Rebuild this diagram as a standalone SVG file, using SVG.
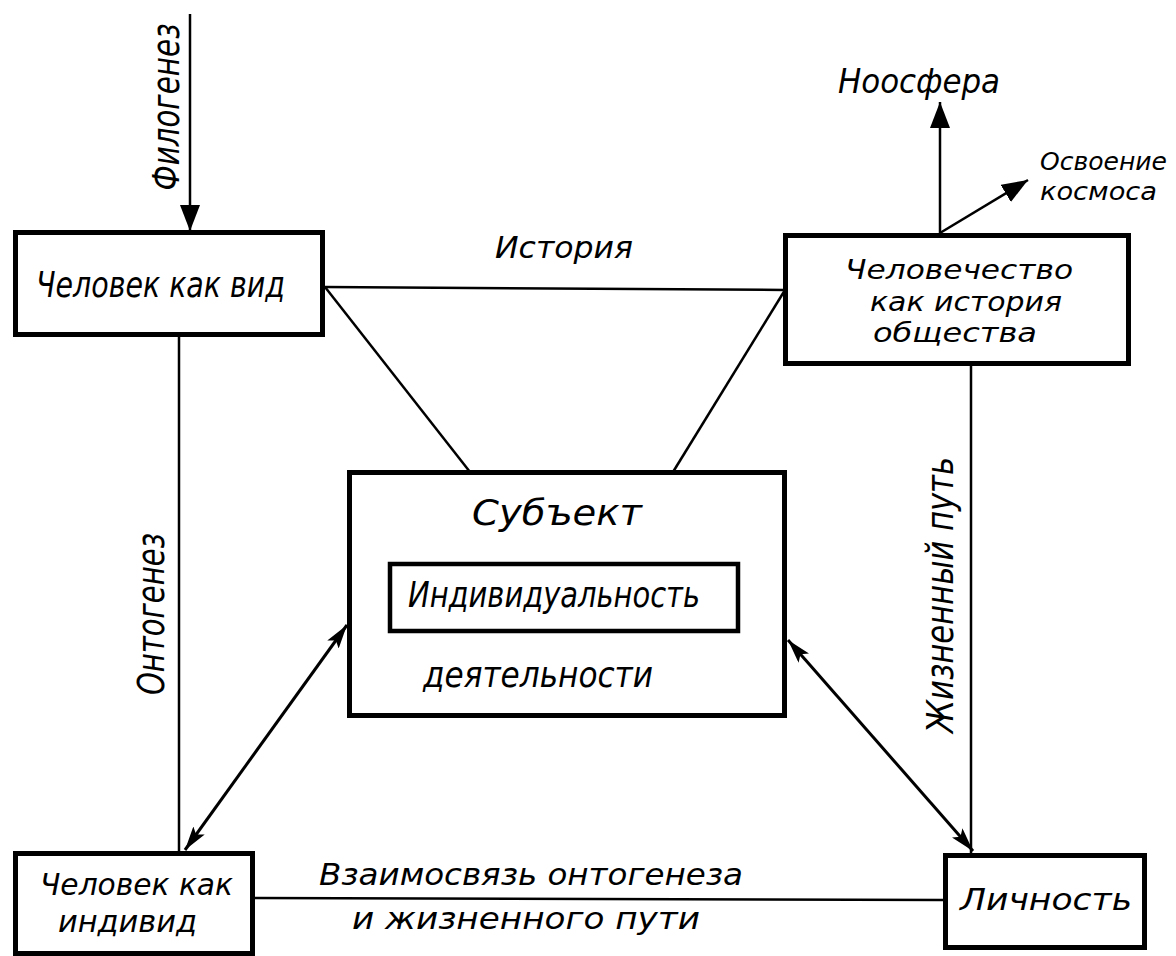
<svg xmlns="http://www.w3.org/2000/svg" width="1176" height="956" viewBox="0 0 1176 956">
<style>
.box{fill:#fff;stroke:#000;stroke-width:5}
.inner{fill:none;stroke:#000;stroke-width:4.5}
.ln{fill:none;stroke:#000;stroke-width:2.5}
.dbl{fill:none;stroke:#000;stroke-width:3}
text{font-family:"DejaVu Sans Condensed","DejaVu Sans",sans-serif;font-style:oblique;fill:#000;font-size:30px}
.big{font-size:35px}
.rot{font-size:37px}
.sm{font-size:25px}
.mid{font-size:27px}
</style>
<defs>
<marker id="ah" markerUnits="userSpaceOnUse" viewBox="0 0 26 20" refX="26" refY="10" markerWidth="26" markerHeight="20" orient="auto-start-reverse">
<path d="M0,0 L26,10 L0,20 z" fill="#000"/>
</marker>
<marker id="ah2" markerUnits="userSpaceOnUse" viewBox="0 0 24 14" refX="24" refY="7" markerWidth="24" markerHeight="14" orient="auto-start-reverse">
<path d="M0,0 L24,7 L0,14 L5,7 z" fill="#000"/>
</marker>
</defs>
<rect width="1176" height="956" fill="#fff"/>
<g id="connectors">
<line class="ln" x1="190" y1="14" x2="190" y2="231" marker-end="url(#ah)"/>
<line class="ln" x1="940" y1="233" x2="940" y2="102" marker-end="url(#ah)"/>
<line class="ln" x1="940" y1="233" x2="1028" y2="180" marker-end="url(#ah)"/>
<line class="ln" x1="325" y1="287" x2="785" y2="290"/>
<line class="ln" x1="325" y1="287" x2="470" y2="472"/>
<line class="ln" x1="785" y1="290" x2="673" y2="472"/>
<line class="ln" x1="179" y1="335" x2="179" y2="851"/>
<line class="ln" x1="971" y1="366" x2="971" y2="853"/>
<line class="ln" x1="255" y1="898" x2="943" y2="900"/>
<line class="dbl" x1="347" y1="625" x2="185" y2="850" marker-start="url(#ah2)" marker-end="url(#ah2)"/>
<line class="dbl" x1="788" y1="640" x2="973" y2="851" marker-start="url(#ah2)" marker-end="url(#ah2)"/>
<text class="rot" transform="translate(179,107) rotate(-90)" text-anchor="middle" textLength="167" lengthAdjust="spacingAndGlyphs">Филогенез</text>
<text class="rot" transform="translate(164,614) rotate(-90)" text-anchor="middle" textLength="162" lengthAdjust="spacingAndGlyphs">Онтогенез</text>
<text class="rot" transform="translate(953,595) rotate(-90)" text-anchor="middle" textLength="276" lengthAdjust="spacingAndGlyphs">Жизненный  путь</text>
<text x="495" y="258" textLength="138" lengthAdjust="spacingAndGlyphs">История</text>
<text x="838" y="93" style="font-size:33px" textLength="162" lengthAdjust="spacingAndGlyphs">Ноосфера</text>
<text class="sm" x="1040" y="170" textLength="127" lengthAdjust="spacingAndGlyphs">Освоение</text>
<text class="sm" x="1040" y="200" textLength="117" lengthAdjust="spacingAndGlyphs">космоса</text>
<text x="319" y="885" textLength="424" lengthAdjust="spacingAndGlyphs">Взаимосвязь  онтогенеза</text>
<text x="352" y="929" textLength="348" lengthAdjust="spacingAndGlyphs">и  жизненного  пути</text>
</g>
<g id="node-species">
<rect class="box" x="15.5" y="232.5" width="307" height="102"/>
<text class="big" x="36" y="297" textLength="249" lengthAdjust="spacingAndGlyphs">Человек как вид</text>
</g>
<g id="node-humanity">
<rect class="box" x="785.5" y="235.5" width="343" height="128"/>
<text class="mid" x="845" y="279" textLength="228" lengthAdjust="spacingAndGlyphs">Человечество</text>
<text class="mid" x="870" y="311" textLength="192" lengthAdjust="spacingAndGlyphs">как история</text>
<text class="mid" x="873" y="342" textLength="164" lengthAdjust="spacingAndGlyphs">общества</text>
</g>
<g id="node-subject">
<rect class="box" x="349.5" y="472.5" width="435" height="243"/>
<text class="big" x="472" y="525" textLength="170" lengthAdjust="spacingAndGlyphs">Субъект</text>
<g id="node-individuality">
<rect class="inner" x="390" y="564" width="348" height="67"/>
<text class="big" x="408" y="607" textLength="292" lengthAdjust="spacingAndGlyphs">Индивидуальность</text>
</g>
<text class="big" x="423" y="687" textLength="230" lengthAdjust="spacingAndGlyphs">деятельности</text>
</g>
<g id="node-individual">
<rect class="box" x="15.5" y="853.5" width="237" height="100"/>
<text x="40" y="895" textLength="193" lengthAdjust="spacingAndGlyphs">Человек как</text>
<text x="58" y="932" textLength="139" lengthAdjust="spacingAndGlyphs">индивид</text>
</g>
<g id="node-personality">
<rect class="box" x="945.5" y="855.5" width="199" height="92"/>
<text x="960" y="910" style="font-size:31px" textLength="172" lengthAdjust="spacingAndGlyphs">Личность</text>
</g>
</svg>
